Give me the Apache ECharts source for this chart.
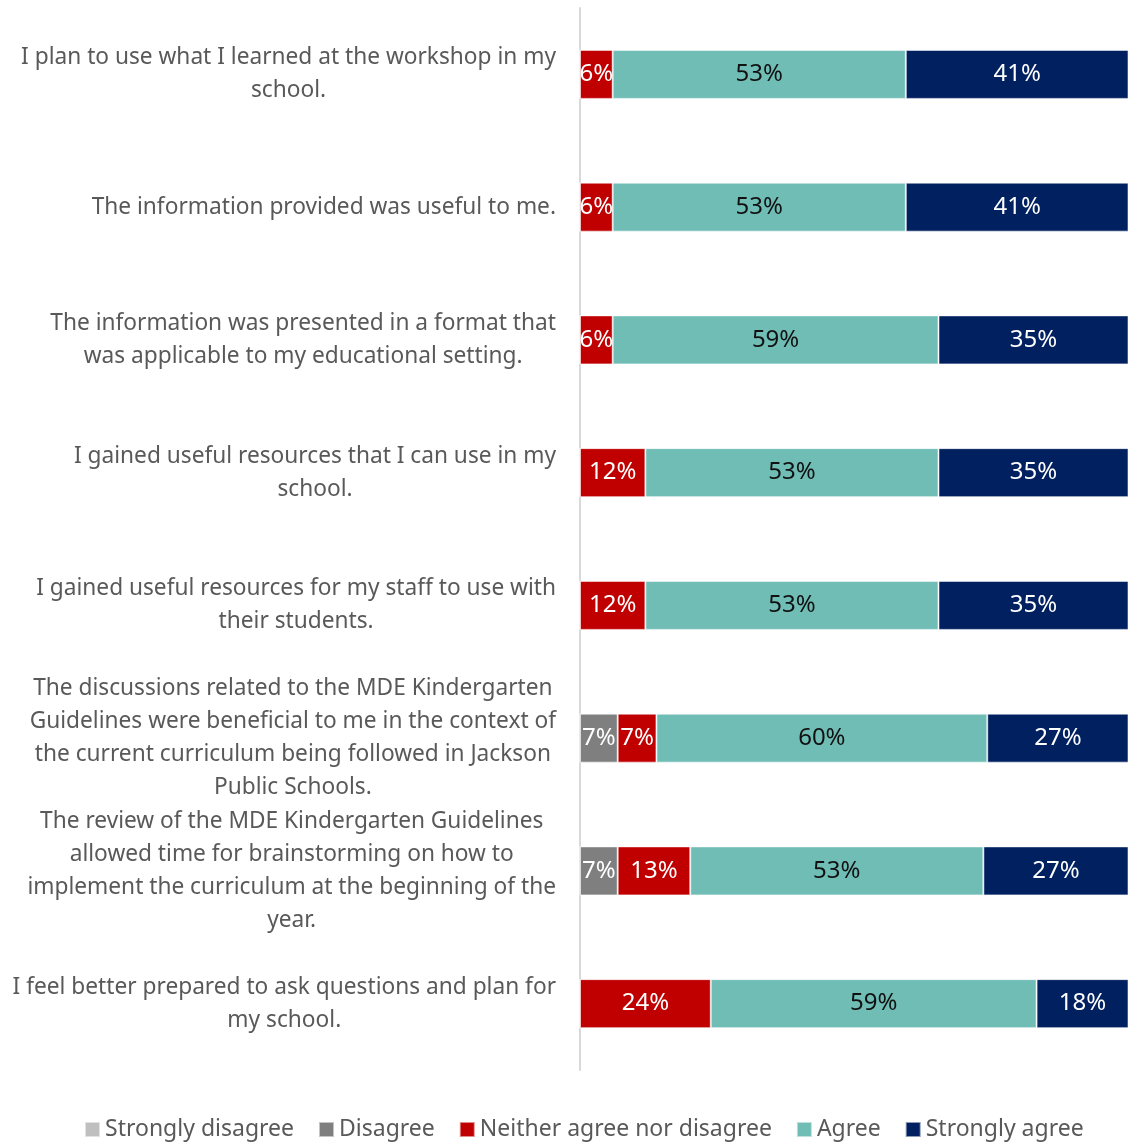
<!DOCTYPE html>
<html>
<head>
<meta charset="utf-8">
<script src="https://cdn.jsdelivr.net/npm/echarts@6/dist/echarts.min.js"></script>
<style>
  html, body { margin: 0; padding: 0; background: #fff; }
  #chart { width: 1128px; height: 1142px; }
</style>
</head>
<body>
<div id="chart"></div>
<script>
const FONT = "'Noto Sans', 'DejaVu Sans', sans-serif";

const statements = [
  'I plan to use what I learned at the workshop in my\nschool.',
  'The information provided was useful to me.',
  'The information was presented in a format that\nwas applicable to my educational setting.',
  'I gained useful resources that I can use in my\nschool.',
  'I gained useful resources for my staff to use with\ntheir students.',
  'The discussions related to the MDE Kindergarten\nGuidelines were beneficial to me in the context of\nthe current curriculum being followed in Jackson\nPublic Schools.',
  'The review of the MDE Kindergarten Guidelines\nallowed time for brainstorming on how to\nimplement the curriculum at the beginning of the\nyear.',
  'I feel better prepared to ask questions and plan for\nmy school.',
];

// percent of respondents, one row per statement
const stronglyDisagree = [0, 0, 0, 0, 0, 0, 0, 0];
const disagree         = [0, 0, 0, 0, 0, 6.8, 6.8, 0];
const neither          = [5.9, 5.9, 5.9, 11.8, 11.8, 7.0, 13.1, 23.6];
const agree            = [52.9, 52.9, 58.8, 52.9, 52.9, 59.7, 52.9, 58.8];
const stronglyAgree    = [41.2, 41.2, 35.3, 35.3, 35.3, 26.5, 27.2, 17.6];

const levels = [
  ['Strongly disagree', stronglyDisagree, '#BFBFBF', '#FFFFFF'],
  ['Disagree', disagree, '#7F7F7F', '#FFFFFF'],
  ['Neither agree nor disagree', neither, '#C00000', '#FFFFFF'],
  ['Agree', agree, '#70BDB6', '#111111'],
  ['Strongly agree', stronglyAgree, '#002060', '#FFFFFF'],
];

const chart = echarts.init(document.getElementById('chart'), null, { renderer: 'canvas' });

const mk = ([name, data, color, labelColor]) => ({
  name,
  type: 'bar',
  stack: 'total',
  data,
  barWidth: 49,
  itemStyle: { color, borderColor: 'rgba(255,255,255,0.55)', borderWidth: 1 },
  label: {
    show: true,
    position: 'inside',
    color: labelColor,
    fontFamily: FONT,
    fontSize: 24,
    formatter: (p) => (p.value > 0 ? Math.round(p.value) + '%' : ''),
  },
  emphasis: { disabled: true },
});

chart.setOption({
  animation: false,
  backgroundColor: '#fff',
  textStyle: { fontFamily: FONT },
  grid: { left: 580, right: 0, top: 8, bottom: 72 },
  // the bars run slightly past the right edge of the picture
  xAxis: {
    type: 'value',
    min: 0,
    max: 98.9,
    show: false,
  },
  yAxis: {
    type: 'category',
    data: statements,
    inverse: true,
    axisLine: { show: true, lineStyle: { color: '#D9D9D9', width: 2 } },
    axisTick: { show: false },
    axisLabel: {
      align: 'right',
      margin: 24,
      formatter: (v) => v.split('\n').map((l) => `{c|${l}}`).join('\n'),
      rich: {
        c: { align: 'center', fontSize: 22.7, lineHeight: 33, color: '#595959', fontFamily: FONT },
      },
    },
  },
  legend: {
    left: 84,
    top: 1118,
    padding: 0,
    itemWidth: 15,
    itemHeight: 15,
    itemGap: 24,
    icon: 'rect',
    textStyle: { color: '#595959', fontSize: 23, fontFamily: FONT },
    data: levels.map((l) => l[0]),
  },
  series: levels.map(mk),
});
</script>
</body>
</html>
